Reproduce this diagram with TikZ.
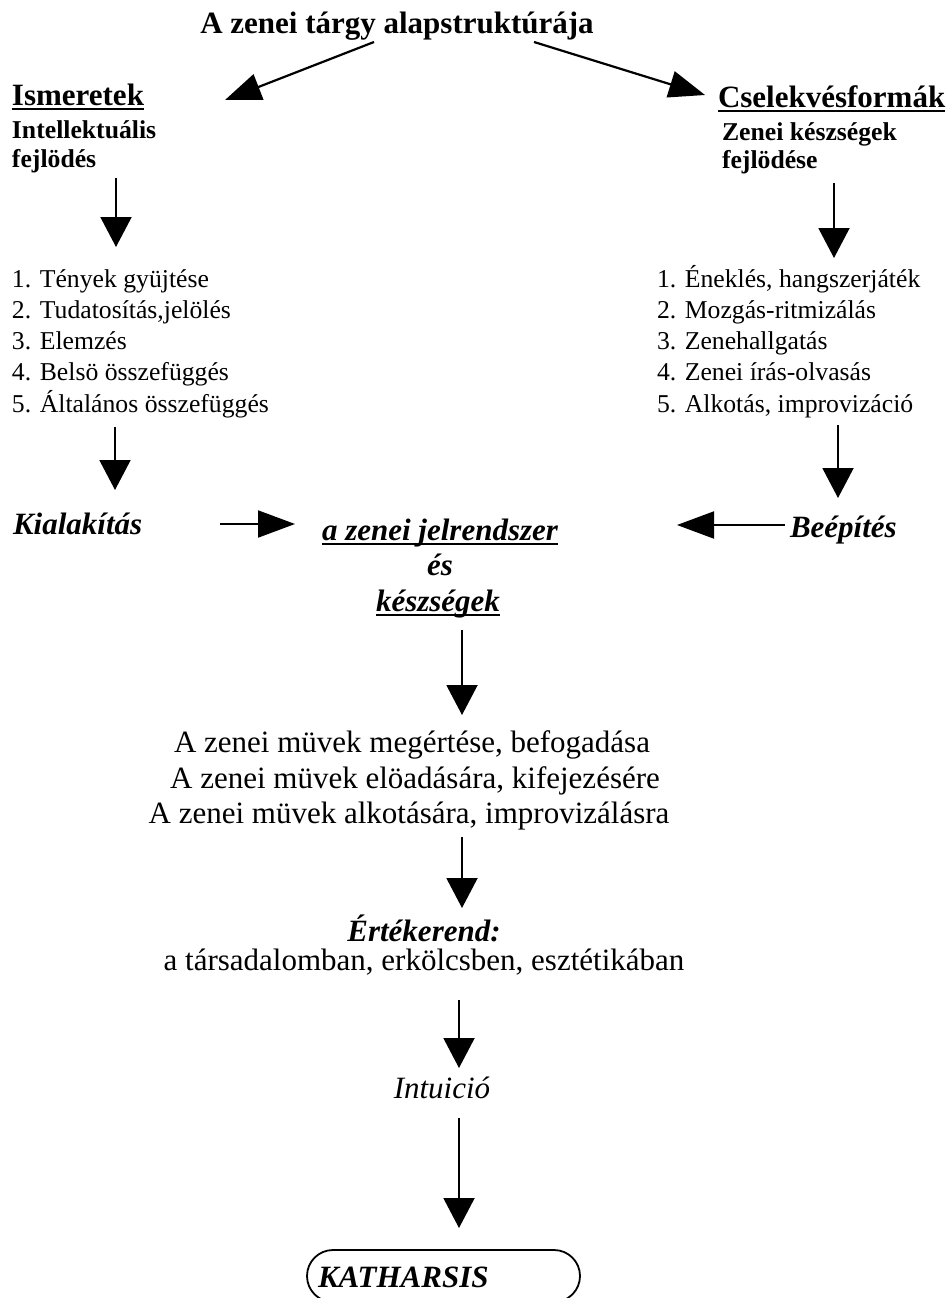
\documentclass[tikz,border=0pt]{standalone}
\usepackage{fontspec}
\setmainfont{Liberation Serif}
\usetikzlibrary{arrows.meta}
\newcommand\bigsz{\fontsize{31}{36}\selectfont}
\newcommand\smsz{\fontsize{25.7}{31}\selectfont}
\begin{document}
\begin{tikzpicture}[x=1pt,y=-1pt,
  txt/.style={inner sep=0pt,outer sep=0pt,anchor=base west},
  ctxt/.style={inner sep=0pt,outer sep=0pt,anchor=base},
  ul/.style={line width=1.8pt},
  varr/.style={line width=2pt,-{Triangle[length=30pt,width=31pt]}},
  harr/.style={line width=2pt,-{Triangle[length=37pt,width=27pt]}},
  darr/.style={line width=2.2pt,-{Triangle[length=36pt,width=27pt]}}]
\useasboundingbox (0,0) rectangle (949,1298);
% title
\node[ctxt] (title) at (397,34) {\bigsz\bfseries A zenei tárgy alapstruktúrája};
% left header
\node[txt] (ism) at (12,105) {\bigsz\bfseries Ismeretek};
\draw[ul] ([yshift=-4pt]ism.base west) -- ([yshift=-4pt]ism.base east);
\node[txt] (int1) at (12,138) {\smsz\bfseries Intellektuális};
\node[txt] (int2) at (12,167) {\smsz\bfseries fejlödés};
% right header
\node[txt] (csel) at (718,107) {\bigsz\bfseries Cselekvésformák};
\draw[ul] ([yshift=-4pt]csel.base west) -- ([yshift=-4pt]csel.base east);
\node[txt] (zk1) at (722,140) {\smsz\bfseries Zenei készségek};
\node[txt] (zk2) at (722,168) {\smsz\bfseries fejlödése};
% lists
\node[txt] (l1) at (12,287) {\smsz 1. Tények gyüjtése};
\node[txt] (l2) at (12,318.25) {\smsz 2. Tudatosítás,jelölés};
\node[txt] (l3) at (12,349.5) {\smsz 3. Elemzés};
\node[txt] (l4) at (12,380.75) {\smsz 4. Belsö összefüggés};
\node[txt] (l5) at (12,412) {\smsz 5. Általános összefüggés};
\node[txt] (r1) at (657,287) {\smsz 1. Éneklés, hangszerjáték};
\node[txt] (r2) at (657,318.25) {\smsz 2. Mozgás-ritmizálás};
\node[txt] (r3) at (657,349.5) {\smsz 3. Zenehallgatás};
\node[txt] (r4) at (657,380.75) {\smsz 4. Zenei írás-olvasás};
\node[txt] (r5) at (657,412) {\smsz 5. Alkotás, improvizáció};
% middle row
\node[txt] (kial) at (13,534) {\bigsz\bfseries\itshape Kialakítás};
\node[txt] (beep) at (790,537) {\bigsz\bfseries\itshape Beépítés};
\node[ctxt] (jel) at (440,540) {\bigsz\bfseries\itshape a zenei jelrendszer};
\draw[ul] ([yshift=-4pt]jel.base west) -- ([yshift=-4pt]jel.base east);
\node[ctxt] (es) at (440,575) {\bigsz\bfseries\itshape és};
\node[ctxt] (kesz) at (438,611) {\bigsz\bfseries\itshape készségek};
\draw[ul] ([yshift=-4pt]kesz.base west) -- ([yshift=-4pt]kesz.base east);
% centre lines
\node[ctxt] (m1) at (412,752) {\bigsz A zenei müvek megértése, befogadása};
\node[ctxt] (m2) at (415,788) {\bigsz A zenei müvek elöadására, kifejezésére};
\node[ctxt] (m3) at (409,823) {\bigsz A zenei müvek alkotására, improvizálásra};
\node[ctxt] (ert) at (424,941) {\bigsz\bfseries\itshape Értékerend:};
\node[ctxt] (tars) at (424,970) {\bigsz a társadalomban, erkölcsben, esztétikában};
\node[ctxt] (intu) at (442,1098) {\bigsz\itshape Intuició};
% katharsis
\node[draw,line width=1.8pt,rounded corners=26pt,minimum width=273pt,minimum height=52pt,inner sep=0pt] (kath) at (443.5,1276) {};
\node[txt] (kathtxt) at (318,1287) {\bigsz\bfseries\itshape KATHARSIS};
% arrow coordinates
\coordinate (ta1) at (374,42); \coordinate (ta2) at (225,100);
\coordinate (tb1) at (534,42); \coordinate (tb2) at (705,95);
\coordinate (v1a) at (116,178); \coordinate (v1b) at (116,247);
\coordinate (v2a) at (834,183); \coordinate (v2b) at (834,258);
\coordinate (v3a) at (115,427); \coordinate (v3b) at (115,490);
\coordinate (v4a) at (838,425); \coordinate (v4b) at (838,498);
\coordinate (h1a) at (220,524); \coordinate (h1b) at (295,524);
\coordinate (h2a) at (785,525); \coordinate (h2b) at (677,525);
\coordinate (c1a) at (462,630); \coordinate (c1b) at (462,715);
\coordinate (c2a) at (462,837); \coordinate (c2b) at (462,908);
\coordinate (c3a) at (459,1000); \coordinate (c3b) at (459,1068);
\coordinate (c4a) at (459,1118); \coordinate (c4b) at (459,1228);
\draw[darr] (ta1) -- (ta2);
\draw[darr] (tb1) -- (tb2);
\draw[varr] (v1a) -- (v1b);
\draw[varr] (v2a) -- (v2b);
\draw[varr] (v3a) -- (v3b);
\draw[varr] (v4a) -- (v4b);
\draw[harr] (h1a) -- (h1b);
\draw[harr] (h2a) -- (h2b);
\draw[varr] (c1a) -- (c1b);
\draw[varr] (c2a) -- (c2b);
\draw[varr] (c3a) -- (c3b);
\draw[varr] (c4a) -- (c4b);
\end{tikzpicture}
\end{document}
